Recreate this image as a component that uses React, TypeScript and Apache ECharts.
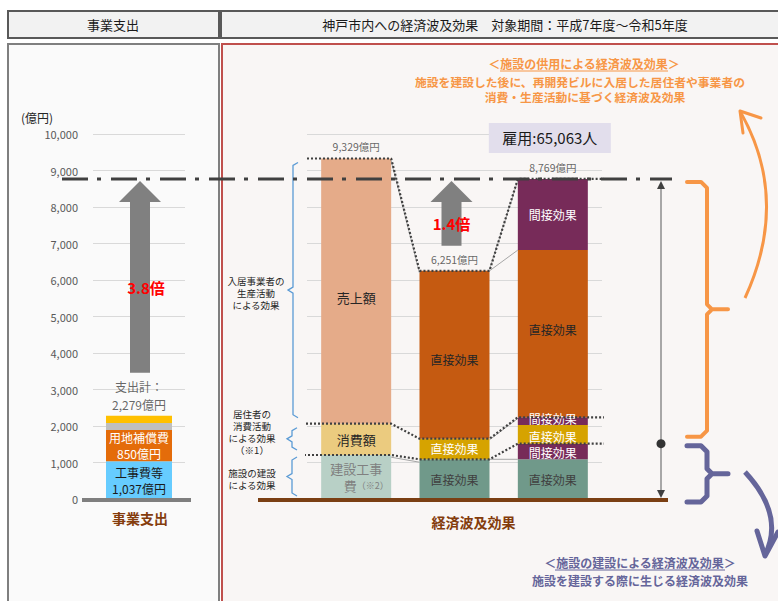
import React, { useEffect, useRef } from 'react';
import * as echarts from 'echarts';

const FONT = '"Noto Sans CJK JP", "Noto Sans", sans-serif';

// ---------------- data ----------------
const yAxisMin = 0;
const yAxisMax = 10000;
const yAxisStep = 1000;

const spendCategory = ['事業支出'];
const spendParts = ['工事費等', '用地補償費', 'その他A', 'その他B'];
const spendValues = [1037, 850, 193, 199];
const spendTotal = 2279;

const effectCategories = ['施設の建設・供用', '直接効果', '直接効果＋間接効果'];
const effectTotals = [9329, 6251, 8769];
const effectLayer1 = [1205, 1088, 1088];
const effectLayer2 = [858, 564, 427];
const effectLayer3 = [7266, 4599, 512];
const effectLayer4 = [null, null, 211];
const effectLayer5 = [null, null, 4582];
const effectLayer6 = [null, null, 1949];
const effectLayerNames = [
  ['建設工事費', '直接効果', '直接効果'],
  ['消費額', '直接効果', '間接効果'],
  ['売上額', '直接効果', '直接効果'],
  ['', '', '間接効果'],
  ['', '', '直接効果'],
  ['', '', '間接効果'],
];
const employmentPersons = 65063;

const braceLabels = [
  ['入居事業者の', '生産活動', 'による効果'],
  ['居住者の', '消費活動', 'による効果', '（※1）'],
  ['施設の建設', 'による効果'],
];

// ---------------- styles ----------------
const spendColors = ['#66ccff', '#e46c0a', '#bfbfbf', '#ffc000'];
const spendLabelColors = ['#1a1a1a', '#ffffff', '', ''];
const effectColors = [
  ['#b8d0c6', '#70998a', '#70998a'],
  ['#ebcb7f', '#d6a300', '#772b59'],
  ['#e5ab89', '#c55a11', '#d6a300'],
  ['', '', '#772b59'],
  ['', '', '#c55a11'],
  ['', '', '#772b59'],
];
const effectLabelColors = [
  ['#808080', '#404040', '#404040'],
  ['#262626', '#ffffff', '#ffffff'],
  ['#262626', '#262626', '#ffffff'],
  ['', '', '#ffffff'],
  ['', '', '#262626'],
  ['', '', '#ffffff'],
];
const effectLabelOffsets = [
  [[0, 0], [0, 0], [0, 0]],
  [[0, 0], [0, 0], [0, 1]],
  [[0, 6], [0, 5], [0, 2]],
  [[0, 0], [0, 0], [0, -3]],
  [[0, 0], [0, 0], [0, -4]],
  [[0, 0], [0, 0], [0, 0]],
];

const effectLayers: (number | null)[][] = [
  effectLayer1, effectLayer2, effectLayer3, effectLayer4, effectLayer5, effectLayer6,
];

const fmt = (v: number) => v.toLocaleString('en-US');

const LEFT_GRID = { left: 93, top: 134, width: 92, height: 365 };
const RIGHT_GRID = { left: 307, top: 134, width: 295, height: 365 };
const SPEND_BAR_W = 66;
const EFFECT_BAR_W = 70;

const ORANGE = '#f79646';
const PURPLE = '#65659a';
const BLUE = '#5b9bd5';

function cumTop(ci: number, upto: number) {
  let s = 0;
  for (let li = 0; li <= upto; li++) {
    const v = effectLayers[li][ci];
    if (v != null) s += v;
  }
  return s;
}

function buildOption() {
  const catW = RIGHT_GRID.width / effectCategories.length;
  const halfW = EFFECT_BAR_W / 2 / catW;
  const xv = (px: number) => (px - RIGHT_GRID.left) / catW;
  const L = (i: number) => i + 0.5 - halfW;
  const R = (i: number) => i + 0.5 + halfW;

  const spendSeries = spendValues.map((v, i) => ({
    type: 'bar',
    name: spendParts[i],
    xAxisIndex: 0,
    yAxisIndex: 0,
    stack: 'spend',
    barWidth: SPEND_BAR_W,
    itemStyle: { color: spendColors[i] },
    data: [v],
    label:
      i < 2
        ? {
            show: true,
            position: 'inside',
            formatter: `${spendParts[i]}\n${fmt(v)}億円`,
            color: spendLabelColors[i],
            fontSize: 12,
            lineHeight: 16,
            fontFamily: FONT,
          }
        : { show: false },
  }));

  const effectSeries = effectLayers.map((layer, li) => ({
    type: 'bar',
    name: `layer${li + 1}`,
    xAxisIndex: 1,
    yAxisIndex: 1,
    stack: 'effect',
    barWidth: EFFECT_BAR_W,
    label: { show: true, position: 'inside', fontSize: 12, fontFamily: FONT },
    data: layer.map((v, ci) => {
      if (v == null) return '-';
      const isConstruction = li === 0 && ci === 0;
      return {
        value: v,
        itemStyle: { color: effectColors[li][ci] },
        label: isConstruction
          ? {
              show: true,
              formatter: `{a|建設工事}\n{s| }{a|費}{b|（※2）}`,
              rich: {
                a: { fontSize: 13, color: effectLabelColors[li][ci], fontFamily: FONT, lineHeight: 17 },
                b: { fontSize: 9, color: effectLabelColors[li][ci], fontFamily: FONT, lineHeight: 17 },
                s: { width: 20 },
              },
            }
          : {
              show: true,
              formatter: effectLayerNames[li][ci],
              color: effectLabelColors[li][ci],
              fontSize: ci === 0 ? 13 : 12,
              offset: effectLabelOffsets[li][ci],
            },
      };
    }),
  }));

  const dotted = (pts: number[][]) => ({
    type: 'line',
    xAxisIndex: 2,
    yAxisIndex: 1,
    data: pts,
    symbol: 'none',
    clip: false,
    silent: true,
    z: 6,
    lineStyle: { color: '#404040', width: 2.2, type: [2, 2] },
  });
  const connector = (pts: number[][]) => ({
    type: 'line',
    xAxisIndex: 2,
    yAxisIndex: 1,
    data: pts,
    symbol: 'none',
    clip: false,
    silent: true,
    z: 5,
    lineStyle: { color: '#a6a6a6', width: 1 },
  });

  const t0 = effectTotals;
  const c2 = [cumTop(0, 1), cumTop(1, 1), cumTop(2, 3)];
  const c1 = [cumTop(0, 0), cumTop(1, 0), cumTop(2, 1)];

  const lineSeries = [
    connector([[R(0), t0[0] - 60], [L(1), t0[1] - 60]]),
    connector([[R(1), t0[1]], [L(2), cumTop(2, 4)]]),
    connector([[R(1), t0[1] + 40], [L(2), t0[2] - 40]]),
    connector([[R(0), c1[0] - 60], [L(1), c1[1] - 80]]),
    connector([[R(1), c1[1]], [L(2), c1[1]]]),
    connector([[R(1), c2[1] - 30], [L(2), c2[2] - 30]]),
    dotted([[xv(295), t0[0]], [R(0), t0[0]], [L(1), t0[1]], [R(1), t0[1]], [L(2), t0[2]], [xv(661), t0[2]]]),
    dotted([[xv(298), c2[0]], [R(0), c2[0]], [L(1), c2[1]], [R(1), c2[1]], [L(2), c2[2]], [xv(616), c2[2]]]),
    dotted([[xv(296), c1[0]], [R(0), c1[0]], [L(1), c1[1]], [R(1), c1[1]], [L(2), c1[2]], [xv(661), c1[2]]]),
  ];

  const totalsSeries = [
    {
      type: 'scatter',
      xAxisIndex: 0,
      yAxisIndex: 0,
      data: [spendTotal],
      symbolSize: 1,
      itemStyle: { color: 'transparent' },
      silent: true,
      label: {
        show: true,
        position: 'top',
        distance: 2,
        formatter: `支出計：\n${fmt(spendTotal)}億円`,
        color: '#404040',
        fontSize: 12,
        lineHeight: 18,
        fontFamily: FONT,
      },
    },
    {
      type: 'scatter',
      xAxisIndex: 1,
      yAxisIndex: 1,
      data: effectTotals,
      symbolSize: 1,
      itemStyle: { color: 'transparent' },
      silent: true,
      label: {
        show: true,
        position: 'top',
        distance: 6,
        formatter: (p: any) => `${fmt(p.value)}億円`,
        color: '#404040',
        fontSize: 10.5,
        fontFamily: FONT,
      },
    },
  ];

  const yAxisCommon = {
    type: 'value',
    min: yAxisMin,
    max: yAxisMax,
    interval: yAxisStep,
    axisLine: { show: false },
    axisTick: { show: false },
    splitLine: { lineStyle: { color: '#d9d9d9', width: 1 } },
  };

  return {
    animation: false,
    backgroundColor: '#ffffff',
    textStyle: { fontFamily: FONT },
    grid: [
      { ...LEFT_GRID, containLabel: false },
      { ...RIGHT_GRID, containLabel: false },
    ],
    xAxis: [
      { type: 'category', gridIndex: 0, data: spendCategory, show: false },
      { type: 'category', gridIndex: 1, data: effectCategories, show: false },
      { type: 'value', gridIndex: 1, min: 0, max: effectCategories.length, show: false },
    ],
    yAxis: [
      {
        ...yAxisCommon,
        gridIndex: 0,
        axisLabel: {
          color: '#595959',
          fontSize: 11,
          margin: 15,
          fontFamily: FONT,
          formatter: (v: number) => fmt(v),
        },
      },
      { ...yAxisCommon, gridIndex: 1, axisLabel: { show: false } },
    ],
    series: [...spendSeries, ...effectSeries, ...lineSeries, ...totalsSeries],
  };
}

function txt(x: number, y: number, text: string, size: number, fill: string, opts: any = {}) {
  return {
    type: 'text',
    x,
    y,
    z: 30,
    silent: true,
    style: {
      text,
      fill,
      fontSize: size,
      fontFamily: FONT,
      fontWeight: opts.bold ? 'bold' : 'normal',
      align: opts.align || 'center',
      verticalAlign: 'middle',
      lineHeight: opts.lineHeight,
    },
  };
}

function lines(x: number, yCenter: number, rows: string[], size: number, step: number, fill: string) {
  const start = yCenter - ((rows.length - 1) * step) / 2;
  return rows.map((r, i) => txt(x, start + i * step, r, size, fill, { lineHeight: size + 1 }));
}

function upArrow(cx: number, tipY: number, baseY: number, bottomY: number) {
  return {
    type: 'polygon',
    z: 20,
    silent: true,
    shape: {
      points: [
        [cx - 10, bottomY],
        [cx + 10, bottomY],
        [cx + 10, baseY],
        [cx + 21, baseY],
        [cx, tipY],
        [cx - 21, baseY],
        [cx - 10, baseY],
      ],
    },
    style: { fill: '#808080' },
  };
}

function blueBrace(yTop: number, yBot: number, xV: number) {
  const yMid = (yTop + yBot) / 2;
  return {
    type: 'polyline',
    z: 20,
    silent: true,
    shape: {
      points: [
        [xV + 5, yTop],
        [xV, yTop + 3],
        [xV, yMid - 3],
        [xV - 5, yMid],
        [xV, yMid + 3],
        [xV, yBot - 3],
        [xV + 5, yBot],
      ],
    },
    style: { stroke: BLUE, lineWidth: 1.3, fill: null },
  };
}

function bigBrace(yTop: number, yBot: number, color: string, lw: number) {
  const yMid = (yTop + yBot) / 2;
  const xV = 707;
  return {
    type: 'polyline',
    z: 20,
    silent: true,
    shape: {
      points: [
        [687, yTop],
        [701, yTop],
        [707, yTop + 6],
        [xV, yMid - 5],
        [712, yMid],
        [728, yMid],
        [712, yMid],
        [xV, yMid + 5],
        [xV, yBot - 6],
        [701, yBot],
        [687, yBot],
      ],
    },
    style: { stroke: color, lineWidth: lw, fill: null, lineJoin: 'round', lineCap: 'round' },
  };
}

function buildGraphics(chart: any) {
  const yP = (v: number) => chart.convertToPixel({ yAxisIndex: 0 }, v) as number;
  const xSpend = chart.convertToPixel({ xAxisIndex: 0 }, spendCategory[0]) as number;
  const xEff = effectCategories.map((c) => chart.convertToPixel({ xAxisIndex: 1 }, c) as number);
  const y0 = yP(0);
  const yPeak = yP(effectTotals[2]);
  const yDot = yP(cumTop(2, 1));
  const ratioSpend = (effectTotals[2] / spendTotal).toFixed(1);
  const ratioDirect = (effectTotals[2] / effectTotals[1]).toFixed(1);

  const g: any[] = [];
  // panels
  g.push({
    type: 'rect', z: -10, silent: true,
    shape: { x: 8, y: 44, width: 211, height: 620 },
    style: { fill: '#fafafa', stroke: '#7f7f7f', lineWidth: 2 },
  });
  g.push({
    type: 'rect', z: -10, silent: true,
    shape: { x: 222, y: 44, width: 620, height: 620 },
    style: { fill: '#f9f6f5', stroke: '#c0504d', lineWidth: 2 },
  });
  // headers
  g.push({
    type: 'rect', z: 20, silent: true,
    shape: { x: 8, y: 11, width: 211, height: 27 },
    style: { fill: '#f2f2f2', stroke: '#595959', lineWidth: 2 },
  });
  g.push({
    type: 'rect', z: 20, silent: true,
    shape: { x: 221, y: 11, width: 620, height: 27 },
    style: { fill: '#f2f2f2', stroke: '#595959', lineWidth: 2 },
  });
  g.push(txt(113, 24.5, '事業支出', 13, '#1a1a1a'));
  g.push(txt(505, 24.5, '神戸市内への経済波及効果　対象期間：平成7年度～令和5年度', 13, '#1a1a1a'));

  // unit
  g.push(txt(37, 117, '(億円)', 12, '#262626'));

  // baselines
  g.push({
    type: 'line', z: 25, silent: true,
    shape: { x1: 82, y1: y0 + 1, x2: 191, y2: y0 + 1 },
    style: { stroke: '#7f7f7f', lineWidth: 4 },
  });
  g.push({
    type: 'line', z: 25, silent: true,
    shape: { x1: 258, y1: y0 + 1, x2: 668, y2: y0 + 1 },
    style: { stroke: '#7b3f13', lineWidth: 4 },
  });

  // dash-dot line at peak level
  g.push({
    type: 'line', z: 22, silent: true,
    shape: { x1: 62, y1: yPeak, x2: 672, y2: yPeak },
    style: { stroke: '#404040', lineWidth: 3, lineDash: [26, 9, 4, 10] },
  });

  // big arrows
  const spendTopY = yP(spendTotal) - 43;
  g.push(upArrow(xSpend + 1, yPeak + 2, yPeak + 23, spendTopY));
  g.push(txt(xSpend + 7, (yPeak + 23 + spendTopY) / 2, `${ratioSpend}倍`, 15, '#ff0000', { bold: true }));
  const midArrowX = xEff[1] - 3;
  const midBottom = yP(effectTotals[1]) - 25;
  g.push(upArrow(midArrowX, yPeak + 2, yPeak + 23, midBottom));
  g.push(txt(midArrowX, (yPeak + 23 + midBottom) / 2, `${ratioDirect}倍`, 15, '#ff0000', { bold: true }));

  // employment box
  const boxCx = xEff[2] - 3;
  const boxBottom = yPeak - 26;
  g.push({
    type: 'rect', z: 20, silent: true,
    shape: { x: boxCx - 61, y: boxBottom - 30, width: 122, height: 30 },
    style: { fill: '#e2deec' },
  });
  g.push(txt(boxCx, boxBottom - 15, `雇用:${fmt(employmentPersons)}人`, 15, '#1a1a1a'));

  // blue braces on the left of the effect bars
  const yT1 = yP(effectTotals[0]);
  const yC2 = yP(cumTop(0, 1));
  const yC1 = yP(cumTop(0, 0));
  g.push(blueBrace(yT1 + 4, yC2 - 6, 293));
  g.push(blueBrace(yC2 + 4, yC1 - 5, 292));
  g.push(blueBrace(yC1 + 2, y0 - 3, 292));
  g.push(...lines(256, (yT1 + yC2) / 2 + 2, braceLabels[0], 9.5, 12, '#262626'));
  g.push(...lines(252, (yC2 + yC1) / 2 - 7, braceLabels[1], 9.5, 12, '#262626'));
  g.push(...lines(252, (yC1 + y0) / 2 + 2, braceLabels[2], 9.5, 12, '#262626'));

  // vertical two-headed arrow with dot
  g.push({
    type: 'line', z: 21, silent: true,
    shape: { x1: 661, y1: yPeak + 8, x2: 661, y2: y0 - 7 },
    style: { stroke: '#8c8c8c', lineWidth: 1.5 },
  });
  g.push({
    type: 'polygon', z: 23, silent: true,
    shape: { points: [[661, yPeak + 2], [657, yPeak + 10], [665, yPeak + 10]] },
    style: { fill: '#404040' },
  });
  g.push({
    type: 'polygon', z: 23, silent: true,
    shape: { points: [[661, y0 - 1], [657, y0 - 9], [665, y0 - 9]] },
    style: { fill: '#404040' },
  });
  g.push({
    type: 'circle', z: 24, silent: true,
    shape: { cx: 661, cy: yDot, r: 4.5 },
    style: { fill: '#333333' },
  });

  // big braces
  g.push(bigBrace(yPeak + 3, yDot - 7, ORANGE, 4));
  g.push(bigBrace(yDot + 2, y0 + 3, PURPLE, 5));

  // curved arrows
  g.push({
    type: 'bezierCurve', z: 20, silent: true,
    shape: { x1: 745, y1: 298, x2: 741, y2: 113, cpx1: 790, cpy1: 200 },
    style: { stroke: ORANGE, lineWidth: 3, fill: null },
  });
  g.push({
    type: 'polyline', z: 20, silent: true,
    shape: { points: [[761, 118], [740, 111], [743, 133]] },
    style: { stroke: ORANGE, lineWidth: 3, fill: null, lineCap: 'round', lineJoin: 'round' },
  });
  g.push({
    type: 'bezierCurve', z: 20, silent: true,
    shape: { x1: 745, y1: 472, x2: 765, y2: 555, cpx1: 785, cpy1: 515 },
    style: { stroke: PURPLE, lineWidth: 5, fill: null },
  });
  g.push({
    type: 'polyline', z: 20, silent: true,
    shape: { points: [[757, 531], [765, 556], [778, 532]] },
    style: { stroke: PURPLE, lineWidth: 5, fill: null, lineCap: 'round', lineJoin: 'round' },
  });

  // descriptive texts
  g.push(txt(584, 63, '＜施設の供用による経済波及効果＞', 12, ORANGE, { bold: true }));
  g.push({
    type: 'line', z: 20, silent: true,
    shape: { x1: 500, y1: 71, x2: 668, y2: 71 },
    style: { stroke: ORANGE, lineWidth: 1 },
  });
  g.push(txt(580, 81, '施設を建設した後に、再開発ビルに入居した居住者や事業者の', 11.8, ORANGE, { bold: true }));
  g.push(txt(585, 96, '消費・生産活動に基づく経済波及効果', 11.8, ORANGE, { bold: true }));

  g.push(txt(640, 562, '＜施設の建設による経済波及効果＞', 12, PURPLE, { bold: true }));
  g.push({
    type: 'line', z: 20, silent: true,
    shape: { x1: 555, y1: 570, x2: 725, y2: 570 },
    style: { stroke: PURPLE, lineWidth: 1 },
  });
  g.push(txt(640, 580, '施設を建設する際に生じる経済波及効果', 12, PURPLE, { bold: true }));

  // bottom captions
  g.push(txt(xSpend + 1, y0 + 19, '事業支出', 14, '#843c0c', { bold: true }));
  g.push(txt(xEff[1] + 19, y0 + 23, '経済波及効果', 14, '#843c0c', { bold: true }));

  return g;
}

export default function App() {
  const ref = useRef<HTMLDivElement>(null);
  useEffect(() => {
    if (!ref.current) return;
    const chart = echarts.init(ref.current, null, { renderer: 'svg' });
    chart.setOption(buildOption() as any);
    chart.setOption({ graphic: buildGraphics(chart) } as any);
    return () => chart.dispose();
  }, []);
  return (
    <div
      ref={ref}
      style={{ position: 'fixed', left: 0, top: 0, width: 778, height: 601 }}
    />
  );
}
